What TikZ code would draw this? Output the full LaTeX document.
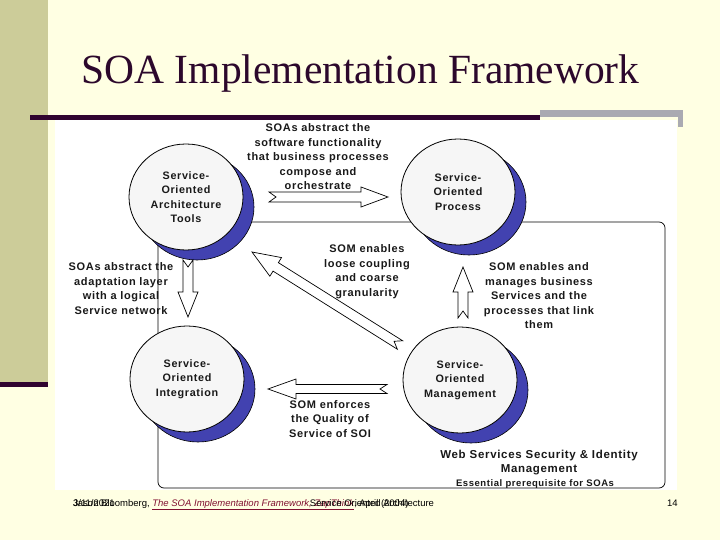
\documentclass[tikz,border=0pt]{standalone}
\usepackage{fontspec}
\setmainfont{Liberation Serif}
\newfontfamily\dfont{Liberation Sans}[LetterSpace=6]
\newfontfamily\ffont{Liberation Sans}
\usetikzlibrary{shapes.geometric,calc,shadows}
\definecolor{cream}{RGB}{255,255,227}
\definecolor{khaki}{RGB}{204,204,153}
\definecolor{titlecol}{RGB}{44,8,44}
\definecolor{rulecol}{RGB}{48,4,48}
\definecolor{graybar}{RGB}{170,170,178}
\definecolor{shadowblue}{RGB}{66,66,176}
\definecolor{circfill}{RGB}{246,246,246}
\definecolor{linkred}{RGB}{128,16,48}

\tikzset{
  circ/.style={ellipse, draw=black, line width=0.8pt, fill=circfill,
    minimum width=114pt, minimum height=106pt, inner sep=-8pt, align=center,
    font=\dfont\bfseries\fontsize{10.8}{14.5}\selectfont, text=black!90,
    copy shadow={shadow xshift=11pt, shadow yshift=-10pt, fill=shadowblue, draw=black, line width=0.6pt}},
  lbl/.style={align=center, font=\dfont\bfseries\fontsize{11}{14.5}\selectfont, text=black!90},
  blockarr/.style={draw=black, fill=white, line width=0.7pt, line join=miter},
  frame/.style={draw=black, line width=0.7pt, rounded corners=6pt},
  foot/.style={font=\ffont\fontsize{9.5}{11}\selectfont, anchor=base west, inner sep=0pt},
}

% tail, tip, shaft half-width, head half-width, head length, notch depth
\newcommand\blockarrow[6]{%
  \coordinate (ba-h) at ($(#2)!#5!(#1)$);
  \coordinate (ba-n) at ($(#1)!#6!(#2)$);
  \draw[blockarr] ($(#1)!#3!90:(#2)$) -- ($(ba-h)!#3!90:(#2)$) -- ($(ba-h)!#4!90:(#2)$)
    -- (#2) -- ($(ba-h)!#4!-90:(#2)$) -- ($(ba-h)!#3!-90:(#2)$) -- ($(#1)!#3!-90:(#2)$)
    -- (ba-n) -- cycle;
}

\begin{document}
\begin{tikzpicture}[x=1pt,y=-1pt]
\useasboundingbox (0,0) rectangle (720,540);
% slide background
\fill[cream] (0,0) rectangle (720,540);
\fill[khaki] (0,0) rectangle (48,382);
\fill[rulecol] (0,382) rectangle (48,387);
\node[font=\fontsize{41.5}{48}\selectfont, text=titlecol, anchor=base, inner sep=0pt] (title) at (360.5,84) {SOA Implementation Framework};
\fill[white] (55,120) rectangle (677,490);
\fill[rulecol] (30,115) rectangle (540,120);
\fill[graybar] (540,110) rectangle (683,117);
\fill[graybar] (678,117) rectangle (683,127);

% frame
\coordinate (fr1) at (158,222);
\coordinate (fr2) at (665,488);
\draw[frame] (fr1) rectangle (fr2);

% circles
\node[circ] (tools) at (186,197) {Service-\\Oriented\\Architecture\\Tools};
\node[circ] (proc) at (458,192) {Service-\\Oriented\\Process};
\node[circ] (integ) at (187,379) {Service-\\Oriented\\Integration};
\node[circ] (mgmt) at (460,380) {Service-\\Oriented\\Management};

% block arrows
\coordinate (a1t) at (269,197); \coordinate (a1h) at (388,197);
\coordinate (a2t) at (400,345); \coordinate (a2h) at (252,252);
\coordinate (a3t) at (188,260); \coordinate (a3h) at (188,317);
\coordinate (a4t) at (463,318); \coordinate (a4h) at (463,267);
\coordinate (a5t) at (387,389); \coordinate (a5h) at (268,389);
\blockarrow{a1t}{a1h}{5pt}{10pt}{27pt}{7pt}
\blockarrow{a2t}{a2h}{5pt}{11pt}{28pt}{7pt}
\blockarrow{a3t}{a3h}{5pt}{10pt}{25pt}{7pt}
\blockarrow{a4t}{a4h}{5pt}{10pt}{25pt}{7pt}
\blockarrow{a5t}{a5h}{4.5pt}{10pt}{28pt}{7pt}

% labels
\node[lbl] (l1) at (318,157) {SOAs abstract the\\software functionality\\that business processes\\compose and\\orchestrate};
\node[lbl] (l2) at (121,288.5) {SOAs abstract the\\adaptation layer\\with a logical\\Service network};
\node[lbl] (l3) at (367,271.5) {SOM enables\\loose coupling\\and coarse\\granularity};
\node[lbl] (l4) at (539,296) {SOM enables and\\manages business\\Services and the\\processes that link\\them};
\node[lbl] (l5) at (330,419) {SOM enforces\\the Quality of\\Service of SOI};
\node[lbl, font=\dfont\bfseries\fontsize{11.5}{14}\selectfont] (l6) at (539,463) {Web Services Security \& Identity\\Management};
\node[lbl, font=\dfont\bfseries\fontsize{9.5}{11}\selectfont] (l7) at (535,484) {Essential prerequisite for SOAs};

% footer
\node[foot] (f1) at (73,506) {Jason Bloomberg, \textcolor{linkred}{\itshape\underline{The SOA Implementation Framework, ZapThink}}, April (2004)};
\node[foot] (f2) at (73,506) {3/11/2021};
\node[foot, anchor=base] (f3) at (372,506) {Service Oriented Architecture};
\node[foot] (f4) at (667,506) {14};
\end{tikzpicture}
\end{document}
